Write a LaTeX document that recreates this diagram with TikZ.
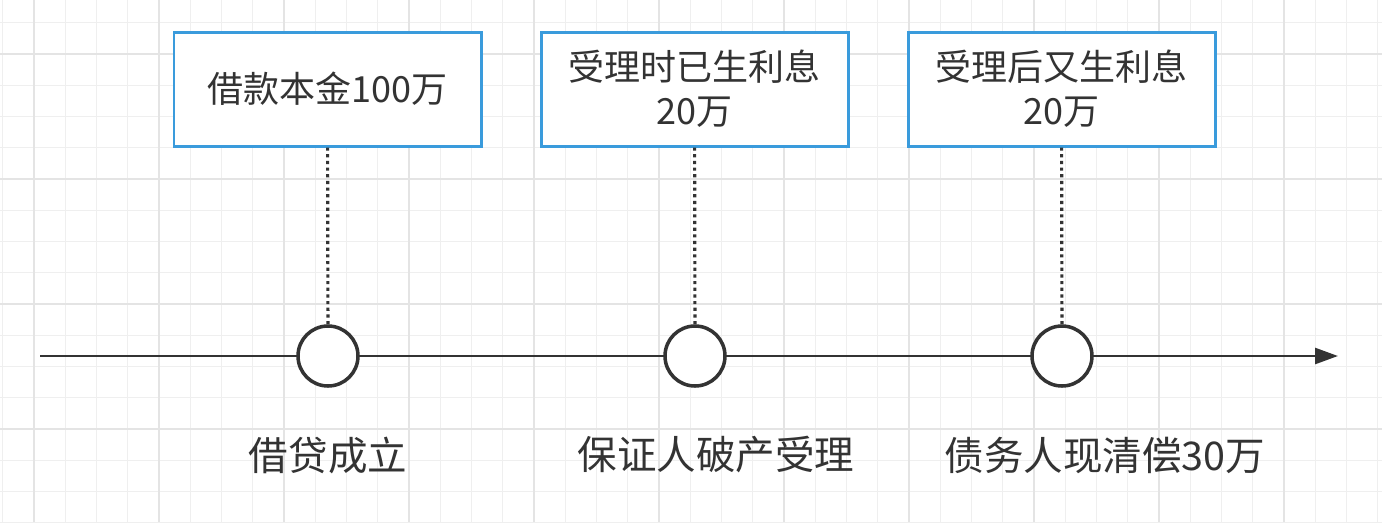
\documentclass[tikz,border=0pt]{standalone}
\usepackage{fontspec}
\setmainfont{Noto Sans CJK SC}
\usetikzlibrary{arrows.meta}
\definecolor{boxblue}{HTML}{3A9BDC}
\definecolor{gridc}{HTML}{EFEFEF}
\definecolor{gridm}{HTML}{E4E4E4}
\definecolor{txt}{HTML}{333333}
\begin{document}
\begin{tikzpicture}[x=0.02cm,y=-0.02cm,
  tbox/.style={draw=boxblue,line width=1.7pt,fill=white,minimum width=307*0.02cm,minimum height=114*0.02cm,align=center,font=\fontsize{20.5}{25}\selectfont,text=txt,inner sep=0pt},
  dot/.style={circle,draw=txt,line width=2pt,fill=white,minimum size=60*0.02cm,inner sep=0pt},
  lab/.style={font=\fontsize{22.5}{27}\selectfont,text=txt},
  conn/.style={dotted,line width=1.8pt,draw=txt}]
\fill[white] (0,0) rectangle (1382,522);
\useasboundingbox (0,0) rectangle (1382,522);
\foreach \i in {0,...,44} {\draw[gridc,line width=0.8pt] ({34+31.25*(\i-1)},0) -- ({34+31.25*(\i-1)},522);}
\foreach \i in {0,...,17} {\draw[gridc,line width=0.8pt] (0,{54+31.25*(\i-1)}) -- (1382,{54+31.25*(\i-1)});}
\foreach \i in {0,...,11} {\draw[gridm,line width=1pt] ({34+125*\i},0) -- ({34+125*\i},522);}
\foreach \i in {0,...,4} {\draw[gridm,line width=1pt] (0,{54+125*\i}) -- (1382,{54+125*\i});}
\coordinate (s) at (40,356);
\coordinate (e) at (1338,356);
\draw[txt,line width=1.6pt,-{Triangle[length=13pt,width=9pt]}] (s) -- (e);
\node[dot] (c1) at (328,356) {};
\node[dot] (c2) at (695,356) {};
\node[dot] (c3) at (1062,356) {};
\node[tbox] (b1) at (327.5,89) {借款本金100万};
\node[tbox] (b2) at (694.5,89) {受理时已生利息\\20万};
\node[tbox] (b3) at (1061.5,89) {受理后又生利息\\20万};
\draw[conn] (b1) -- (c1);
\draw[conn] (b2) -- (c2);
\draw[conn] (b3) -- (c3);
\node[lab] (l1) at (328,455) {借贷成立};
\node[lab] (l2) at (716,455) {保证人破产受理};
\node[lab] (l3) at (1105,455) {债务人现清偿30万};
\end{tikzpicture}
\end{document}
